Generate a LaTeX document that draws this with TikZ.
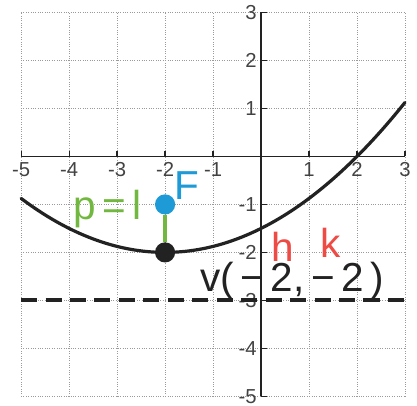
\documentclass[tikz,border=0pt]{standalone}
\usepackage{fontspec}
\setmainfont{Liberation Sans}
\definecolor{ink}{HTML}{222222}
\definecolor{gridc}{HTML}{9A9A9A}
\definecolor{focusc}{HTML}{1E9BD7}
\definecolor{pgreen}{HTML}{72B840}
\definecolor{hkred}{HTML}{EE4B45}
\usetikzlibrary{positioning}
\tikzset{
  gridline/.style={gridc, densely dotted, line width=0.4pt},
  axisline/.style={ink, line width=0.7pt},
  ticklbl/.style={font=\fontsize{12}{12}\selectfont, color=ink!85, inner sep=1pt},
  curve/.style={ink, line width=1.9pt, line cap=round},
  directrix/.style={ink, line width=2.3pt, dash pattern=on 9.5pt off 5pt},
  fdot/.style={circle, fill=focusc, minimum size=4.2mm, inner sep=0pt},
  vdot/.style={circle, fill=ink, minimum size=4.2mm, inner sep=0pt},
  hand/.style={font=\fontsize{24}{24}\selectfont, inner sep=0pt},
}

\begin{document}
\begin{tikzpicture}
\useasboundingbox (-5.44,-5.2) rectangle (3.25,3.26);
% grid
\foreach \x in {-5,...,3} \draw[gridline] (\x,-5) -- (\x,3);
\foreach \y in {-5,...,3} \draw[gridline] (-5,\y) -- (3,\y);
% axes
\draw[axisline] (-5,0) -- (3,0);
\draw[axisline] (0,-5) -- (0,3);
\foreach \x in {-5,-4,-3,-2,-1,1,2,3}{
  \draw[axisline] (\x,0) -- (\x,0.12);
  \node[ticklbl,below] (xl\x) at (\x,-0.08) {\x};
}
\foreach \y in {-5,-4,-3,-2,-1,1,2,3}{
  \draw[axisline] (0,\y) -- (0.12,\y);
  \node[ticklbl,left] (yl\y) at (-0.05,\y) {\y};
}
% directrix and parabola
\draw[directrix] (-5,-3) -- (3,-3);
\draw[curve] plot[domain=-5:3, samples=60, smooth] (\x,{(\x+2)^2/8-2});
% focus and vertex
\node[fdot] (focus) at (-2,-1) {};
\node[vdot] (vert) at (-2,-2) {};
\draw[pgreen, line width=2pt] (focus) -- (vert);
\node[hand, color=pgreen] (plbl) at (-3.2,-1.1) {p\,=\,l};
\node[hand, color=focusc] (flbl) at (-1.55,-0.6) {F};
\node[hand, color=hkred] (hlbl) at (0.45,-1.88) {h};
\node[hand, color=hkred] (klbl) at (1.45,-1.8) {k};
\node[hand, color=ink] (vlbl) at (0.65,-2.6) {v(\,−\,2,\,−\,2\,)};
\end{tikzpicture}
\end{document}
